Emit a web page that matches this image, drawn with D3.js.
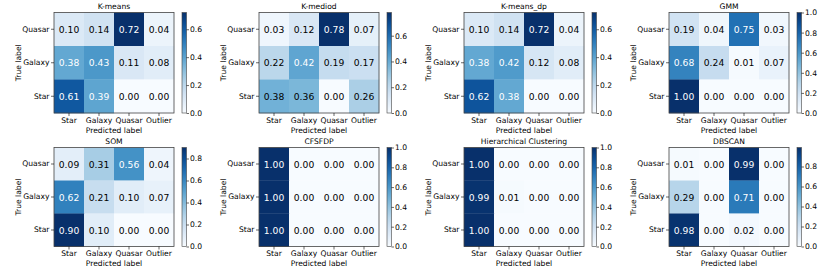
<!DOCTYPE html>
<html><head><meta charset="utf-8">
<script src="https://cdn.jsdelivr.net/npm/d3@7"></script>
<style>
html,body{margin:0;padding:0;background:#fff;}
svg{display:block;font-family:"DejaVu Sans",sans-serif;}
</style></head>
<body><svg id="chart" width="827" height="273"></svg>
<script>
const predictedLabels = ["Star", "Galaxy", "Quasar", "Outlier"];
const trueLabels = ["Quasar", "Galaxy", "Star"];
const titles = ["K-means", "K-mediod", "K-means_dp", "GMM", "SOM", "CFSFDP", "Hierarchical Clustering", "DBSCAN"];

const kmeans = [[0.10, 0.14, 0.72, 0.04], [0.38, 0.43, 0.11, 0.08], [0.61, 0.39, 0.00, 0.00]];
const kmediod = [[0.03, 0.12, 0.78, 0.07], [0.22, 0.42, 0.19, 0.17], [0.38, 0.36, 0.00, 0.26]];
const kmeansDp = [[0.10, 0.14, 0.72, 0.04], [0.38, 0.42, 0.12, 0.08], [0.62, 0.38, 0.00, 0.00]];
const gmm = [[0.19, 0.04, 0.75, 0.03], [0.68, 0.24, 0.01, 0.07], [1.00, 0.00, 0.00, 0.00]];
const som = [[0.09, 0.31, 0.56, 0.04], [0.62, 0.21, 0.10, 0.07], [0.90, 0.10, 0.00, 0.00]];
const cfsfdp = [[1.00, 0.00, 0.00, 0.00], [1.00, 0.00, 0.00, 0.00], [1.00, 0.00, 0.00, 0.00]];
const hierarchical = [[1.00, 0.00, 0.00, 0.00], [0.99, 0.01, 0.00, 0.00], [1.00, 0.00, 0.00, 0.00]];
const dbscan = [[0.01, 0.00, 0.99, 0.00], [0.29, 0.00, 0.71, 0.00], [0.98, 0.00, 0.02, 0.00]];
const matrices = [kmeans, kmediod, kmeansDp, gmm, som, cfsfdp, hierarchical, dbscan];

const svg = d3.select("#chart");
const defs = svg.append("defs");
const W = 120, colStep = 205, left0 = 54;
const rowTop = [12.5, 147.5], rowH = [100.5, 99];
const tickFont = 7.6, valFont = 9.2;

matrices.forEach((m, i) => {
  const col = i % 4, row = Math.floor(i / 4);
  const left = left0 + colStep * col, top = rowTop[row], h = rowH[row];
  const g = svg.append("g");
  const x = d3.scaleBand().domain(predictedLabels).range([left, left + W]);
  const y = d3.scaleBand().domain(trueLabels).range([top, top + h]);
  const flat = m.flat();
  const vmin = d3.min(flat), vmax = d3.max(flat);
  const color = d3.scaleSequential(d3.interpolateBlues).domain([vmin, vmax]);
  const thresh = (vmin + vmax) / 2;

  const cells = [];
  m.forEach((r, ri) => r.forEach((v, ci) => cells.push({t: trueLabels[ri], p: predictedLabels[ci], v})));

  g.selectAll("rect.cell").data(cells).join("rect")
    .attr("x", d => x(d.p)).attr("y", d => y(d.t))
    .attr("width", x.bandwidth() + 0.3).attr("height", y.bandwidth() + 0.3)
    .attr("fill", d => color(d.v));

  g.selectAll("text.val").data(cells).join("text")
    .attr("x", d => x(d.p) + x.bandwidth() / 2)
    .attr("y", d => y(d.t) + y.bandwidth() / 2)
    .attr("text-anchor", "middle").attr("dominant-baseline", "central")
    .attr("font-size", valFont)
    .attr("fill", d => d.v > thresh ? "#fff" : "#000")
    .text(d => d3.format(".2f")(d.v));

  g.append("rect").attr("x", left).attr("y", top).attr("width", W).attr("height", h)
    .attr("fill", "none").attr("stroke", "#444").attr("stroke-width", 0.8);

  const ax = g.append("g").attr("transform", `translate(0,${top + h})`)
    .call(d3.axisBottom(x).tickSize(3).tickPadding(1.5));
  const ay = g.append("g").attr("transform", `translate(${left},0)`)
    .call(d3.axisLeft(y).tickSize(3).tickPadding(1.5));
  [ax, ay].forEach(a => {
    a.select(".domain").remove();
    a.selectAll("text").attr("font-size", tickFont).attr("font-family", "DejaVu Sans").attr("fill", "#000");
    a.selectAll("line").attr("stroke", "#000").attr("stroke-width", 0.6);
  });

  g.append("text").attr("x", left + W / 2).attr("y", top - 3.5)
    .attr("text-anchor", "middle").attr("font-size", tickFont).text(titles[i]);
  g.append("text").attr("x", left + W / 2).attr("y", top + h + 19.5)
    .attr("text-anchor", "middle").attr("font-size", tickFont).text("Predicted label");
  g.append("text").attr("transform", `translate(${left - 33},${top + h / 2}) rotate(-90)`)
    .attr("text-anchor", "middle").attr("font-size", tickFont).text("True label");

  // colorbar
  const cbx = left + 128, cbw = 4.5;
  const gid = "grad" + i;
  const grad = defs.append("linearGradient").attr("id", gid)
    .attr("x1", 0).attr("y1", 1).attr("x2", 0).attr("y2", 0);
  d3.range(0, 1.0001, 0.1).forEach(t => {
    grad.append("stop").attr("offset", t).attr("stop-color", d3.interpolateBlues(t));
  });
  g.append("rect").attr("x", cbx).attr("y", top).attr("width", cbw).attr("height", h)
    .attr("fill", `url(#${gid})`).attr("stroke", "#444").attr("stroke-width", 0.6);
  const cs = d3.scaleLinear().domain([vmin, vmax]).range([top + h, top]);
  const ac = g.append("g").attr("transform", `translate(${cbx + cbw},0)`)
    .call(d3.axisRight(cs).ticks(5).tickFormat(d3.format(".1f")).tickSize(2.5).tickPadding(1));
  ac.select(".domain").remove();
  ac.selectAll("text").attr("font-size", tickFont).attr("font-family", "DejaVu Sans").attr("fill", "#000");
  ac.selectAll("line").attr("stroke", "#000").attr("stroke-width", 0.6);
});
</script></body></html>
